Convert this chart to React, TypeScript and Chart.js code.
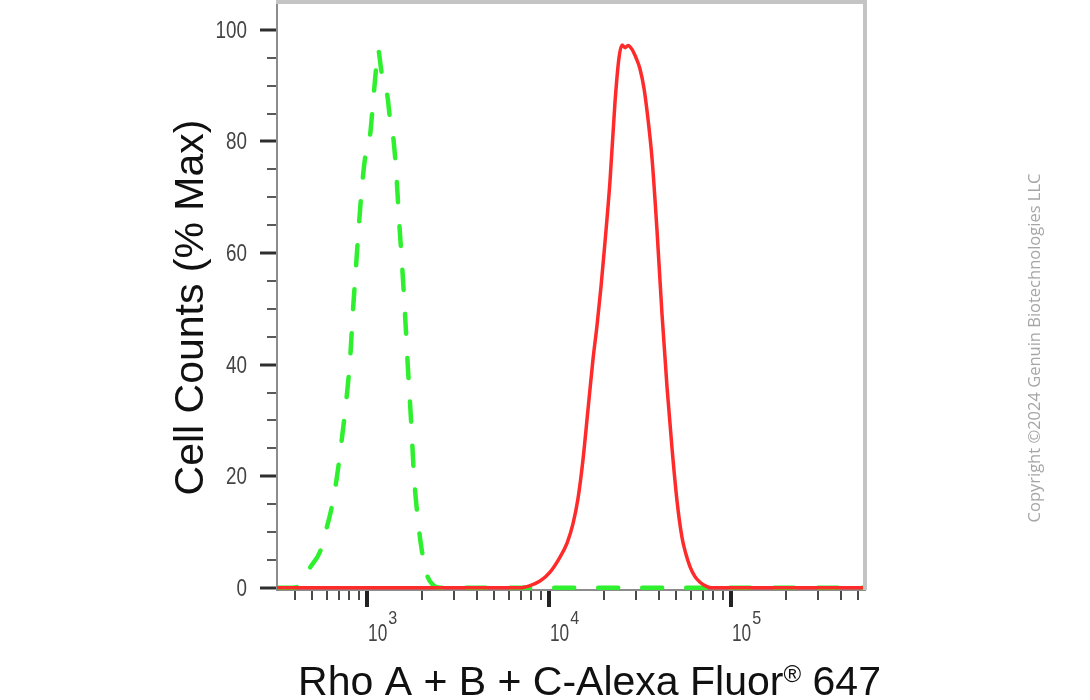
import React, { useEffect, useRef } from 'react';
import { Chart, registerables } from 'chart.js';

Chart.register(...registerables);

// ---- Data (fluorescence intensity vs. % max cell counts) ----
const redIntensity = [320, 6930, 7864, 8924, 10127, 11493, 12562, 13548, 14430, 15374, 16379, 17451, 18350, 19310, 20310, 21640, 23040, 24240, 25180, 26160, 27180, 28580, 30060, 31623, 33270, 34990, 36810, 39220, 41780, 44500, 47420, 50500, 53800, 56580, 59500, 63410, 67550, 72880, 78640, 545000];
const redCounts = [0, 0, 0.4, 1.2, 2.8, 5.5, 8, 11.5, 16, 23, 32, 41, 47, 54, 62, 73, 87, 95, 97.3, 96.8, 97.2, 96.5, 95, 93, 89.5, 84, 77, 64, 49, 36, 25, 15.6, 9, 6, 3.8, 2, 1, 0.3, 0, 0];

const greenIntensity = [320, 392, 428, 486, 552, 603, 642, 684, 729, 777, 807, 838, 859, 893, 927, 975, 1038, 1079, 1120, 1149, 1194, 1240, 1288, 1338, 1390, 1443, 1499, 1557, 1617, 1680, 1745, 1812, 1906, 2004, 2135, 2306, 2520, 545000];
const greenCounts = [0, 0, 0.5, 3.6, 6.5, 11, 14.7, 20, 27, 35, 41, 50, 55, 63, 70, 77, 81, 87, 93, 96.5, 93, 89.5, 88.5, 84, 81, 75, 66, 58, 49, 39, 30, 20, 12, 6.5, 2.3, 0.5, 0, 0];

const xMajorTicks = [1000, 10000, 100000];
const xMinorTicks = [400, 500, 600, 700, 800, 900, 2000, 3000, 4000, 5000, 6000, 7000, 8000, 9000, 20000, 30000, 40000, 50000, 60000, 70000, 80000, 90000, 200000, 300000, 400000, 500000];
const xTickExponents = ['3', '4', '5'];
const yTicks = [0, 5, 10, 15, 20, 25, 30, 35, 40, 45, 50, 55, 60, 65, 70, 75, 80, 85, 90, 95, 100];
const yLabelTicks = [0, 20, 40, 60, 80, 100];

const xTitleMain = 'Rho A + B + C-Alexa Fluor';
const xTitleSup = '®';
const xTitleEnd = ' 647';
const yTitle = 'Cell Counts (% Max)';
const copyrightText = 'Copyright ©2024 Genuin Biotechnologies LLC';

const SANS = "'Liberation Sans', Arial, Helvetica, sans-serif";

// draw horizontally condensed text (narrow look of the original)
function narrowText(ctx: CanvasRenderingContext2D, text: string, x: number, y: number, size: number, sx: number, align: 'left' | 'right') {
  ctx.save();
  ctx.font = `${size}px ${SANS}`;
  const w = ctx.measureText(text).width * sx;
  const left = align === 'right' ? x - w : x;
  ctx.translate(left, y);
  ctx.scale(sx, 1);
  ctx.textAlign = 'left';
  ctx.fillText(text, 0, 0);
  ctx.restore();
  return w;
}

const decorPlugin = {
  id: 'decor',
  afterDraw(chart: any) {
    const { ctx, chartArea, scales } = chart;
    const xs = scales.x;
    const ys = scales.y;
    const { left, right, top, bottom } = chartArea;
    ctx.save();

    // light frame on top and right
    ctx.fillStyle = '#c4c4c4';
    ctx.fillRect(left - 1, top - 2, right - left + 3, 4);
    ctx.fillRect(right - 2, top - 2, 4, bottom - top + 2);

    // y tick marks + labels
    yTicks.forEach((v) => {
      const py = Math.round(ys.getPixelForValue(v));
      const major = yLabelTicks.includes(v);
      ctx.strokeStyle = major ? '#2e2e2e' : '#5a5a5a';
      ctx.lineWidth = major ? 3 : 2;
      ctx.beginPath();
      ctx.moveTo(left - (major ? 17 : 10), py);
      ctx.lineTo(left - 1, py);
      ctx.stroke();
      if (major) {
        ctx.fillStyle = '#444';
        ctx.textBaseline = 'alphabetic';
        narrowText(ctx, String(v), 247, py + 8, 23, 0.82, 'right');
      }
    });

    // x tick marks
    const allX = [...xMinorTicks, ...xMajorTicks];
    allX.forEach((v) => {
      const px = Math.round(xs.getPixelForValue(v));
      const major = xMajorTicks.includes(v);
      ctx.strokeStyle = major ? '#222' : '#4a4a4a';
      ctx.lineWidth = major ? 4 : 2;
      ctx.beginPath();
      ctx.moveTo(px, bottom + 1);
      ctx.lineTo(px, bottom + (major ? 17 : 10));
      ctx.stroke();
    });

    // x tick labels 10^n
    ctx.fillStyle = '#444';
    ctx.textBaseline = 'alphabetic';
    xMajorTicks.forEach((v, i) => {
      const px = xs.getPixelForValue(v);
      const x0 = px + 1;
      const w = narrowText(ctx, '10', x0, 641, 23, 0.75, 'left');
      narrowText(ctx, xTickExponents[i], x0 + w + 1, 624, 19, 0.85, 'left');
    });

    // x title with superscript ®
    ctx.fillStyle = '#111';
    ctx.textAlign = 'left';
    ctx.font = `41px ${SANS}`;
    const w1 = ctx.measureText(xTitleMain).width;
    const w3 = ctx.measureText(xTitleEnd).width;
    ctx.font = `24px ${SANS}`;
    const w2 = ctx.measureText(xTitleSup).width;
    const total = w1 + w2 + w3;
    const sx = 589.5 - total / 2;
    ctx.font = `41px ${SANS}`;
    ctx.fillText(xTitleMain, sx, 695);
    ctx.font = `24px ${SANS}`;
    ctx.fillText(xTitleSup, sx + w1, 682);
    ctx.font = `41px ${SANS}`;
    ctx.fillText(xTitleEnd, sx + w1 + w2, 695);

    // y title (rotated)
    ctx.save();
    ctx.translate(203, 307.5);
    ctx.rotate(-Math.PI / 2);
    ctx.textAlign = 'center';
    ctx.font = `41px ${SANS}`;
    ctx.fillStyle = '#111';
    ctx.fillText(yTitle, 0, 0);
    ctx.restore();

    // copyright (rotated)
    ctx.save();
    ctx.translate(1040, 348);
    ctx.rotate(-Math.PI / 2);
    ctx.textAlign = 'center';
    ctx.font = "16.5px 'Open Sans', 'Noto Sans', sans-serif";
    ctx.fillStyle = '#a6a6a6';
    ctx.fillText(copyrightText, 0, 0);
    ctx.restore();

    ctx.restore();
  },
};

export default function App() {
  const ref = useRef<HTMLCanvasElement>(null);

  useEffect(() => {
    const canvas = ref.current;
    if (!canvas) return;
    const chart = new Chart(canvas, {
      type: 'line',
      data: {
        datasets: [
          {
            label: 'Rho A + B + C',
            data: redIntensity.map((x, i) => ({ x, y: redCounts[i] })),
            borderColor: '#ff2a2a',
            borderWidth: 3.5,
            pointRadius: 0,
            fill: false,
            cubicInterpolationMode: 'monotone',
          },
          {
            label: 'Control',
            data: greenIntensity.map((x, i) => ({ x, y: greenCounts[i] })),
            borderColor: '#2ef02e',
            borderWidth: 4.5,
            borderDash: [20, 24],
            borderCapStyle: 'round',
            pointRadius: 0,
            fill: false,
            cubicInterpolationMode: 'monotone',
          },
        ],
      },
      options: {
        animation: false,
        responsive: true,
        maintainAspectRatio: false,
        layout: { padding: { top: 2, right: 225, left: 0, bottom: 0 } },
        plugins: { legend: { display: false }, tooltip: { enabled: false } },
        scales: {
          x: {
            type: 'logarithmic',
            min: 320,
            max: 545000,
            afterBuildTicks: (scale: any) => {
              scale.ticks = [...xMinorTicks, ...xMajorTicks]
                .sort((a, b) => a - b)
                .map((v) => ({ value: v, major: xMajorTicks.includes(v) }));
            },
            afterFit: (scale: any) => {
              scale.height = 110;
              scale.paddingLeft = 0;
              scale.paddingRight = 0;
            },
            grid: { display: false, drawTicks: false },
            border: { display: true, color: '#8c8c8c', width: 2 },
            ticks: { display: false },
          },
          y: {
            min: -0.4,
            max: 105,
            afterBuildTicks: (scale: any) => {
              scale.ticks = yTicks.map((v) => ({ value: v }));
            },
            afterFit: (scale: any) => {
              scale.width = 277;
              scale.paddingTop = 0;
              scale.paddingBottom = 0;
            },
            grid: { display: false, drawTicks: false, tickLength: 0 },
            border: { display: true, color: '#8c8c8c', width: 2 },
            ticks: { display: false },
          },
        },
      },
      plugins: [decorPlugin],
    } as any);
    return () => chart.destroy();
  }, []);

  return (
    <div style={{ position: 'fixed', left: 0, top: 0, width: 1090, height: 700, background: '#fff' }}>
      <canvas ref={ref} />
    </div>
  );
}
